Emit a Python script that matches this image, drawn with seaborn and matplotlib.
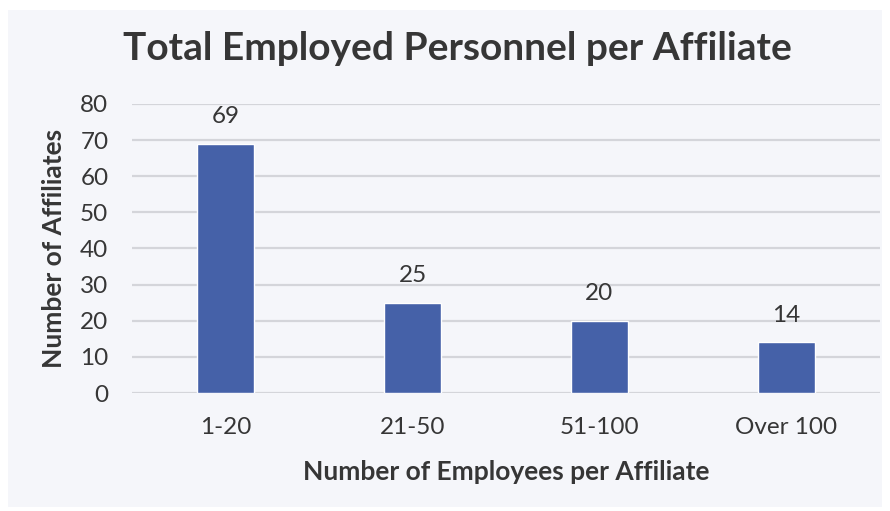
import matplotlib
matplotlib.use("Agg")
import matplotlib.pyplot as plt
from matplotlib.patches import Rectangle
import seaborn as sns
import pandas as pd

categories = ["1-20", "21-50", "51-100", "Over 100"]
affiliates = [69, 25, 20, 14]

data = pd.DataFrame({"group": categories, "count": affiliates})

sns.set_style("white")
plt.rcParams["font.family"] = ["Lato", "DejaVu Sans"]

text_col = "#363636"
bg_col = "#f5f6fa"
bar_col = "#4561a8"

fig = plt.figure(figsize=(8.9, 5.11), dpi=100)
fig.patch.set_facecolor("white")
fig.add_artist(Rectangle((8 / 890, 1 - 507 / 511), 874 / 890, 497 / 511,
                         transform=fig.transFigure, facecolor=bg_col,
                         edgecolor="none", zorder=0))

ax = fig.add_axes([132 / 890, 1 - 393 / 511, 748 / 890, 289 / 511])
ax.patch.set_alpha(0)

sns.barplot(x="group", y="count", data=data, color=bar_col, width=0.31,
            saturation=1, ax=ax, zorder=3)

ax.set_ylim(0, 80)
ax.set_xlim(-0.5, 3.5)
ax.set_yticks(range(0, 81, 10))
ax.yaxis.grid(True, color="#d4d5da", linewidth=1.6, zorder=0)
ax.set_axisbelow(True)
for s in ax.spines.values():
    s.set_visible(False)
ax.tick_params(axis="both", length=0, labelsize=17.5, colors=text_col)
ax.tick_params(axis="y", pad=17)
ax.tick_params(axis="x", pad=17)

# value labels above bars
for i, v in enumerate(affiliates):
    ax.annotate(str(v), (i, v), xytext=(0, 19.5), textcoords="offset points",
                ha="center", va="center", fontsize=17.5, color=text_col,
                annotation_clip=False)

ax.set_xlabel("Number of Employees per Affiliate", fontsize=19,
              fontweight="bold", color=text_col, labelpad=16)
ax.set_ylabel("Number of Affiliates", fontsize=19, fontweight="bold",
              color=text_col, labelpad=10)

fig.text(457 / 890, 1 - 48 / 511, "Total Employed Personnel per Affiliate",
         ha="center", va="center", fontsize=28, fontweight="bold",
         color=text_col)

fig.savefig("out.png", dpi=100, facecolor=fig.get_facecolor())
